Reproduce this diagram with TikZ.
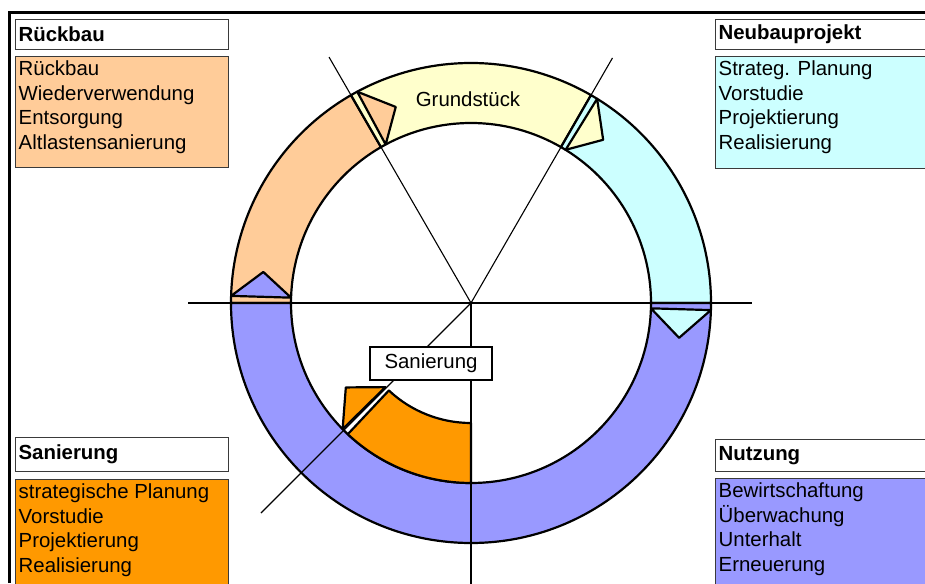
\documentclass[tikz,border=0pt]{standalone}
\usepackage{fontspec}
\setmainfont{Liberation Sans}
\setsansfont{Liberation Sans}
\usetikzlibrary{positioning}
\definecolor{peach}{HTML}{FFCC99}
\definecolor{paleyellow}{HTML}{FFFFCC}
\definecolor{palecyan}{HTML}{CCFFFF}
\definecolor{lavender}{HTML}{9999FF}
\definecolor{amber}{HTML}{FF9900}
\definecolor{boxline}{HTML}{3A3A3A}
\newcommand{\wheelsize}{\fontsize{20.4pt}{24.5pt}\selectfont}
\tikzset{
  titlebox/.style={
    rectangle, draw=boxline, fill=white, line width=1.2pt,
    anchor=north west, minimum height=30pt, minimum width=213pt,
    text width=207pt, inner xsep=3pt, align=left,
    font=\wheelsize\bfseries
  },
  listbox/.style={
    rectangle, draw=boxline, fill=#1, line width=1.2pt,
    anchor=north west, minimum width=213pt, inner sep=0pt
  },
  listbox/.default=white,
  listtext/.style={
    anchor=north west, align=left, inner xsep=3.5pt, inner ysep=5pt,
    font=\wheelsize
  },
  segment/.style={
    draw=black, fill=#1, line width=2.2pt, line join=round
  },
  segment/.default=white,
  axisline/.style={draw=black, line width=1.1pt},
  framerule/.style={draw=black, line width=3pt},
  labelbox/.style={
    rectangle, draw=black, fill=white, line width=1.2pt,
    minimum width=122pt, minimum height=33pt, font=\wheelsize
  },
}

\begin{document}
\begin{tikzpicture}[x=1pt, y=1pt, font=\wheelsize]
  \clip (0,0) rectangle (925,583);

  % Frame
  \draw[framerule] (9.5,0) -- (9.5,570) -- (930,570);

  % Wheel
  \begin{scope}[shift={(471,280)}]
    \coordinate (ctr) at (0,0);
    % ring segments
    \draw[segment=peach] (180:240pt) arc[start angle=180, end angle=120, radius=240pt]
      -- (120:180pt) arc[start angle=120, end angle=180, radius=180pt] -- cycle;
    \draw[segment=paleyellow] (120:240pt) arc[start angle=120, end angle=60, radius=240pt]
      -- (60:180pt) arc[start angle=60, end angle=120, radius=180pt] -- cycle;
    \draw[segment=palecyan] (60:240pt) arc[start angle=60, end angle=0, radius=240pt]
      -- (0:180pt) arc[start angle=0, end angle=60, radius=180pt] -- cycle;
    \draw[segment=lavender] (0:240pt) arc[start angle=0, end angle=-180, radius=240pt]
      -- (180:180pt) arc[start angle=-180, end angle=0, radius=180pt] -- cycle;
    \draw[segment=amber] (270:180pt) arc[start angle=270, end angle=226.8, radius=180pt]
      -- (226.8:120pt) arc[start angle=226.8, end angle=270, radius=120pt] -- cycle;

    % axes
    \draw[axisline] (180:283pt) -- (0:281pt);
    \draw[axisline] (ctr) -- (120:284pt);
    \draw[axisline] (ctr) -- (60:283pt);
    \draw[axisline] (ctr) -- (225:297pt);
    \draw[axisline] (ctr) -- (270:300pt);

    % arrow heads
    \draw[segment=peach] (118.3:180pt) -- (118.3:240pt) -- (111:210pt) -- cycle;
    \draw[segment=paleyellow] (58.3:180pt) -- (58.3:240pt) -- (51:210pt) -- cycle;
    \draw[segment=palecyan] (-1.7:180pt) -- (-1.7:240pt) -- (-9.5:211pt) -- cycle;
    \draw[segment=lavender] (178.3:180pt) -- (178.3:240pt) -- (171.5:210pt) -- cycle;
    \draw[segment=amber] (224.5:120pt) -- (224.5:180pt) -- (214:151pt) -- cycle;
  \end{scope}

  % Labels on the wheel
  \node (grund) at (468,484) {Grundstück};
  \node[labelbox] (sanLabel) at (431,219.5) {Sanierung};

  % Rückbau
  \node[titlebox] (rbTitle) at (15,564) {Rückbau};
  \node[listbox=peach, minimum height=111pt] (rbList) at (15,527) {};
  \node[listtext] (rbText) at (rbList.north west)
    {Rückbau\\Wiederverwendung\\Entsorgung\\Altlastensanierung};

  % Neubauprojekt
  \node[titlebox] (nbTitle) at (715,564) {Neubauprojekt};
  \node[listbox=palecyan, minimum width=230pt, minimum height=112pt] (nbList) at (715,527) {};
  \node[listtext] (nbText) at (nbList.north west)
    {Strateg. Planung\\Vorstudie\\Projektierung\\Realisierung};

  % Sanierung
  \node[titlebox, minimum height=34pt] (saTitle) at (15,146) {Sanierung};
  \node[listbox=amber, minimum height=120pt] (saList) at (15,104) {};
  \node[listtext] (saText) at (saList.north west)
    {strategische Planung\\Vorstudie\\Projektierung\\Realisierung};

  % Nutzung
  \node[titlebox, minimum height=32pt] (nuTitle) at (715,144) {Nutzung};
  \node[listbox=lavender, minimum width=230pt, minimum height=120pt] (nuList) at (715,105) {};
  \node[listtext] (nuText) at (nuList.north west)
    {Bewirtschaftung\\Überwachung\\Unterhalt\\Erneuerung};
\end{tikzpicture}
\end{document}
